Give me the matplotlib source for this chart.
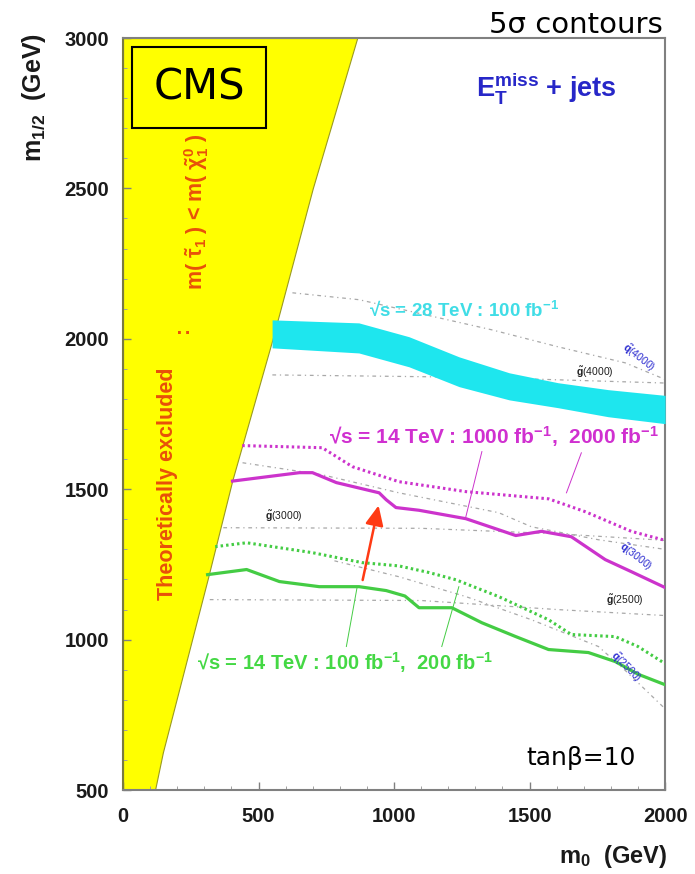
import matplotlib
matplotlib.use("Agg")
import matplotlib.pyplot as plt
from matplotlib import font_manager
from matplotlib.patches import Rectangle

# ---- values (m0, m1/2 in GeV) ----
excl_m0 = [864, 700, 552, 404, 312, 226, 147, 118]
excl_m12 = [3000, 2500, 2000, 1532, 1200, 900, 625, 500]

band_m0 = [550, 870, 1055, 1240, 1425, 1605, 1790, 2000]
band_hi = [2063, 2053, 2007, 1940, 1887, 1854, 1831, 1812]
band_lo = [1970, 1953, 1907, 1841, 1797, 1771, 1741, 1718]

mag1000_m0 = [404, 651, 699, 787, 945, 971, 1007, 1092, 1265, 1449, 1544, 1654, 1779, 1875, 2000]
mag1000_m12 = [1527, 1555, 1555, 1522, 1488, 1465, 1439, 1430, 1402, 1346, 1360, 1342, 1266, 1226, 1173]
mag2000_m0 = [440, 735, 846, 1018, 1265, 1570, 1706, 1875, 2000]
mag2000_m12 = [1645, 1638, 1575, 1525, 1492, 1468, 1425, 1360, 1330]

grn100_m0 = [312, 456, 577, 724, 871, 971, 1040, 1092, 1213, 1324, 1449, 1570, 1717, 1816, 1900, 2000]
grn100_m12 = [1216, 1233, 1193, 1176, 1176, 1163, 1145, 1106, 1106, 1056, 1010, 967, 957, 927, 885, 850]
grn200_m0 = [340, 456, 699, 882, 1018, 1129, 1228, 1386, 1570, 1654, 1816, 1900, 2000]
grn200_m12 = [1309, 1322, 1289, 1256, 1245, 1223, 1199, 1143, 1066, 1017, 1010, 977, 920]

# iso-mass lines (squark / gluino)
sq4000_m0 = [625, 871, 1360, 1607, 1853, 2000]
sq4000_m12 = [2153, 2130, 2030, 1973, 1920, 1865]
gl4000_m0 = [551, 1300, 2000]
gl4000_m12 = [1880, 1872, 1853]
sq3000_m0 = [441, 735, 1018, 1386, 1507, 1754, 2000]
sq3000_m12 = [1588, 1548, 1488, 1422, 1375, 1332, 1300]
gl3000_m0 = [370, 1100, 1600, 2000]
gl3000_m12 = [1372, 1370, 1352, 1330]
gl2500_m0 = [320, 1100, 1600, 2000]
gl2500_m12 = [1133, 1130, 1100, 1080]
sq2500_m0 = [780, 1018, 1265, 1507, 1754, 1850, 2000]
sq2500_m12 = [1262, 1209, 1143, 1066, 977, 900, 770]

arrow_tail = (882, 1189)
arrow_head = (945, 1455)

xticks = [0, 500, 1000, 1500, 2000]
yticks = [500, 1000, 1500, 2000, 2500, 3000]

names = {f.name for f in font_manager.fontManager.ttflist}
narrow = "Liberation Sans Narrow" if "Liberation Sans Narrow" in names else "Liberation Sans"

plt.rcParams.update({
    "font.family": ["Liberation Sans", "DejaVu Sans"],
    "mathtext.fontset": "custom",
    "mathtext.rm": "Liberation Sans:bold",
    "mathtext.it": "Liberation Sans:bold",
    "mathtext.bf": "Liberation Sans:bold",
})

fig = plt.figure(figsize=(6.95, 8.74), dpi=100)
ax = fig.add_axes([0.177, 0.0961, 0.780, 0.8604])

cyan = "#1ee6ee"
mag = "#cc33cc"
grn = "#44cc44"
gray = "#a8a8a8"

# theoretically excluded region
ax.fill_betweenx(excl_m12, 0, excl_m0, color="#ffff00", ec="#9a9a20", lw=0.8, zorder=1)

# 28 TeV band
ax.fill_between(band_m0, band_lo, band_hi, color=cyan, lw=0, zorder=3)

# iso-mass lines
for xs, ys in [(sq4000_m0, sq4000_m12), (gl4000_m0, gl4000_m12), (sq3000_m0, sq3000_m12),
               (gl3000_m0, gl3000_m12), (gl2500_m0, gl2500_m12), (sq2500_m0, sq2500_m12)]:
    ax.plot(xs, ys, color=gray, lw=0.9, ls=(0, (3, 3, 1, 3)), zorder=2)

ax.plot(mag1000_m0, mag1000_m12, color=mag, lw=2.3, solid_joinstyle="round", zorder=4)
ax.plot(mag2000_m0, mag2000_m12, color=mag, lw=2.2, ls=(0, (0.8, 1.0)), zorder=4)
ax.plot(grn100_m0, grn100_m12, color=grn, lw=2.3, solid_joinstyle="round", zorder=4)
ax.plot(grn200_m0, grn200_m12, color=grn, lw=2.2, ls=(0, (0.8, 1.0)), zorder=4)

# leader lines from the labels
ax.plot([1324, 1265], [1625, 1409], color=mag, lw=0.7, zorder=4)
ax.plot([1691, 1636], [1621, 1488], color=mag, lw=0.7, zorder=4)
ax.plot([824, 864], [977, 1176], color=grn, lw=0.7, zorder=4)
ax.plot([1176, 1239], [977, 1176], color=grn, lw=0.7, zorder=4)

ax.annotate("", xy=arrow_head, xytext=arrow_tail,
            arrowprops=dict(arrowstyle="-|>,head_length=1.2,head_width=0.55",
                            color="#ff3a14", lw=1.8), zorder=6)

# labels inside the plot
ax.text(908, 2093, "\u221as = 28 TeV : 100 fb$^{-1}$", color="#40dde6", fontsize=13.5,
        family=[narrow, "DejaVu Sans"], weight="bold", va="center", ha="left", zorder=5)
ax.text(761, 1674, "\u221as = 14 TeV : 1000 fb$^{-1}$,  2000 fb$^{-1}$", color="#d030d0",
        fontsize=15, family=[narrow, "DejaVu Sans"], weight="bold", va="center", ha="left", zorder=5)
ax.text(272, 924, "\u221as = 14 TeV : 100 fb$^{-1}$,  200 fb$^{-1}$", color="#44d844",
        fontsize=14.5, family=[narrow, "DejaVu Sans"], weight="bold", va="center", ha="left", zorder=5)

small = dict(fontsize=7.5, family=[narrow, "DejaVu Sans"], ha="center", va="center", zorder=5)
ax.text(1739, 1887, r"$\tilde{g}$(4000)", color="#202020", **small)
ax.text(592, 1409, r"$\tilde{g}$(3000)", color="#202020", **small)
ax.text(1853, 1130, r"$\tilde{g}$(2500)", color="#202020", **small)
ax.text(1901, 1937, r"$\tilde{q}$(4000)", color="#2a2ad0", rotation=-38, **small)
ax.text(1890, 1276, r"$\tilde{q}$(3000)", color="#2a2ad0", rotation=-38, **small)
ax.text(1853, 910, r"$\tilde{q}$(2500)", color="#2a2ad0", rotation=-45, **small)

ax.text(1301, 2834, r"$\mathbf{E}_\mathbf{T}^\mathbf{miss}$ + jets", color="#2727c8",
        fontsize=19.5, weight="bold", va="center", ha="left", zorder=5)

# excluded-region text
ax.text(165, 1518, "Theoretically excluded", color="#e8500a", fontsize=15.5, weight="bold",
        rotation=90, ha="center", va="center", zorder=5)
ax.text(221, 2030, ":", color="#e8500a", fontsize=15, weight="bold",
        rotation=90, ha="center", va="center", zorder=5)
ax.text(272, 2422, r"m( $\tilde{\tau}_1$ ) < m( $\tilde{\chi}^0_1$ )", color="#e8500a",
        fontsize=15.5, weight="bold", rotation=90, ha="center", va="center", zorder=5)

# CMS box
ax.add_patch(Rectangle((33, 2701), 496, 269, facecolor="#ffff00", edgecolor="black",
                       lw=1.5, zorder=5))
ax.text(281, 2835, "CMS", fontsize=30, family="DejaVu Sans", color="black",
        ha="center", va="center", zorder=6)

ax.text(1489, 608, "tan\u03b2=10", fontsize=18, family="DejaVu Sans", color="black",
        ha="left", va="center", zorder=5)
fig.text(663 / 695, 1 - 33 / 874, "5\u03c3 contours", fontsize=21, family="DejaVu Sans",
         ha="right", va="baseline")

# axes
ax.set_xlim(0, 2000)
ax.set_ylim(500, 3000)
ax.set_xticks(xticks)
ax.set_yticks(yticks)
ax.set_xticks(range(0, 2001, 100), minor=True)
ax.set_yticks(range(500, 3001, 100), minor=True)
ax.tick_params(which="major", direction="in", length=6, width=1.0, color="#808080",
               labelsize=14.5, labelcolor="#1a1a1a")
ax.tick_params(which="minor", direction="in", length=3, width=0.7, color="#a0a0a0")
ax.tick_params(axis="x", pad=12)
ax.tick_params(axis="y", pad=10)
for lab in ax.get_xticklabels() + ax.get_yticklabels():
    lab.set_fontweight("bold")
for s in ax.spines.values():
    s.set_color("#808080")
    s.set_linewidth(1.5)
ax.spines["left"].set_color("#7a7a40")

fig.text(34 / 695, 1 - 33 / 874, r"m$_{1/2}$  (GeV)", rotation=90, fontsize=18,
         weight="bold", ha="center", va="top", color="#1a1a1a")
fig.text(667 / 695, 1 - 857 / 874, r"m$_0$  (GeV)", fontsize=17, weight="bold",
         ha="right", va="center", color="#1a1a1a")

fig.savefig("out.png", dpi=100, facecolor="white")
